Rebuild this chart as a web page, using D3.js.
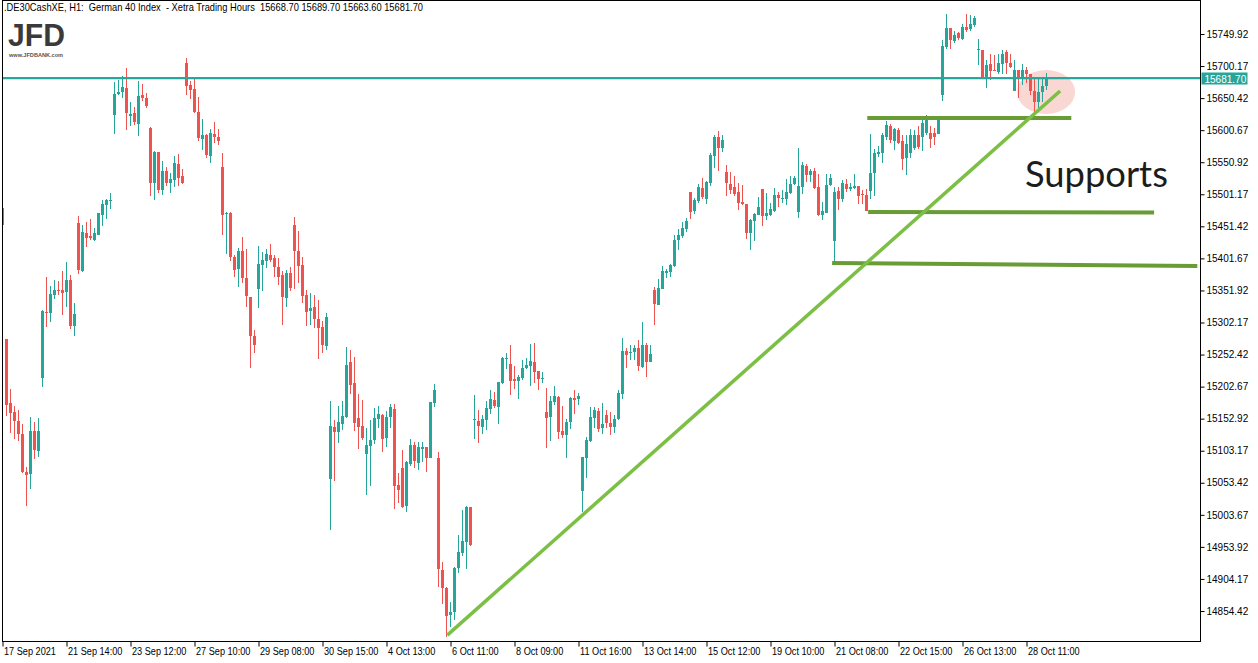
<!DOCTYPE html>
<html><head><meta charset="utf-8">
<script src="https://cdn.jsdelivr.net/npm/d3@7"></script>
<style>html,body{margin:0;padding:0;background:#fff;} svg{display:block;}</style>
</head><body>
<svg id="chart" width="1258" height="663"></svg>
<script>
// ---- DATA (H1 bars, .DE30CashXE, 17 Sep 16:00 .. 28 Oct 16:00) ----
const opens=[15479.4,15276.5,15177.7,15163.7,15149.8,15129.1,15070.0,15067.0,15133.7,15102.7,
15216.5,15318.4,15317.4,15345.3,15352.6,15352.6,15349.5,15368.1,15297.2,15456.6,
15382.6,15441.1,15436.4,15430.2,15438.5,15469.0,15484.6,15491.8,15624.7,15656.3,
15659.9,15666.1,15623.2,15627.8,15610.8,15655.3,15650.1,15604.1,15519.2,15566.8,
15507.3,15537.3,15519.2,15523.8,15548.1,15529.5,15704.9,15670.8,15664.6,15628.9,
15587.5,15593.2,15561.1,15594.7,15590.1,15543.5,15471.6,15472.1,15404.3,15385.2,
15413.1,15371.2,15341.7,15281.2,15354.6,15391.9,15398.1,15406.9,15401.7,15387.8,
15375.9,15340.7,15379.0,15453.5,15413.1,15391.4,15344.7,15320.4,15326.1,15307.5,
15295.1,15265.6,15059.7,15139.8,15132.1,15145.0,15154.9,15240.7,15208.1,15154.3,
15141.4,15098.5,15110.9,15119.7,15152.8,15158.5,15123.3,15155.4,15167.8,15049.8,
15076.2,15017.2,15082.4,15111.9,15084.5,15106.2,15108.8,15092.3,15176.6,15091.7,
14917.9,14890.5,14848.0,14853.3,14920.5,14944.9,14961.9,15015.7,15150.8,15149.7,
15139.9,15151.3,15167.9,15181.8,15171.0,15208.2,15244.9,15237.7,15213.9,15211.8,
15216.5,15231.0,15234.6,15240.8,15226.8,15215.0,15163.2,15155.9,15179.2,15186.5,
15133.7,15127.5,15147.7,15184.9,15183.9,15040.6,15092.3,15118.7,15154.4,15164.7,
15138.9,15158,15146,15140,15152.3,15191.1,15257.8,15255.3,15256.3,15262.5,
15233.0,15267.2,15241.3,15352.5,15329.8,15354.1,15378.9,15380.5,15389.8,15430.1,
15436.3,15447.2,15504.6,15475.2,15490.7,15510.9,15493.8,15518.6,15560.5,15590.0,
15572.9,15535.7,15517.1,15512.4,15504.6,15489.1,15486.0,15441.0,15459.7,15469.0,
15509.4,15467.4,15469.0,15475.2,15500.0,15493.8,15493.8,15503.1,15517.1,15473.7,
15512.5,15545.1,15531.1,15537.3,15512.5,15469.0,15472.1,15515.6,15428.6,15506.2,
15493.8,15517.1,15509.4,15510.9,15514.0,15501.6,15500.0,15506.2,15534.2,15563.6,
15565.2,15590.1,15607.1,15583.9,15600.9,15583.9,15557.5,15565.2,15573.0,15593.2,
15590.1,15596.3,15596.3,15596.3,15594.7,15655.3,15729.8,15759.3,15739.1,15751.5,
15742.2,15760.8,15757.7,15763.9,15725.1,15725.1,15681.6,15703.4,15694.1,15691.0,
15703.4,15722.0,15704.9,15661.5,15694.1,15680.1,15694.1,15687.9,15661.5,15644.4,
15659.9,15668.7];
const highs=[15484,15277,15198.9,15172.5,15166.3,15144.6,15077.3,15155.5,15147.2,15153.4,
15321.5,15372.8,15358.8,15368.1,15366.6,15382.1,15396.1,15375.9,15332.4,15467.5,
15453.5,15457.6,15462.8,15448.8,15472.1,15492.3,15494.4,15503.2,15674.9,15678.5,
15684.8,15697.2,15644.9,15636.6,15676.5,15672.3,15658.4,15605.0,15568.3,15567.0,
15552.8,15543.5,15534.2,15560.6,15563.7,15540.4,15712.7,15677.0,15681.6,15652.1,
15618.0,15594.7,15602.5,15613.3,15602.5,15565.2,15473.6,15473.0,15407.4,15418.3,
15434.8,15416.2,15342.0,15290.5,15420.9,15412.1,15416.2,15424.0,15406.9,15401.7,
15382.6,15383.6,15388.3,15465.9,15444.2,15403.8,15352.5,15347.3,15344.7,15337.0,
15304.4,15316.8,15180.2,15150.7,15172.4,15180.2,15264.0,15259.4,15248.5,15191.1,
15181.8,15138.3,15150.7,15169.9,15172.4,15160.5,15164.7,15175.0,15175.5,15069.0,
15104.1,15087.1,15121.2,15117.1,15117.1,15117.1,15109.0,15179.0,15206.6,15101.0,
14930.3,14892.0,14868.7,14922.1,14972.3,15011.1,15017.3,15016.0,15189.6,15166.3,
15158.5,15180.8,15197.3,15194.2,15210.0,15248.6,15254.8,15267.2,15234.6,15220.6,
15243.9,15247.0,15268.7,15270.3,15227.0,15225.3,15199.9,15187.5,15203.0,15187.5,
15172.5,15152.8,15186.5,15196.8,15192.7,15093.5,15124.9,15170.4,15170.4,15168.9,
15177.2,15166,15163,15158,15197.3,15277.5,15262.5,15267.2,15267.2,15274.9,
15302.9,15270.3,15267.2,15357.2,15369.6,15389.8,15385.1,15392.9,15437.9,15447.2,
15458.1,15464.3,15505.0,15495.3,15517.1,15526.4,15521.7,15565.2,15593.1,15599.3,
15593.1,15546.6,15535.7,15529.5,15518.6,15515.5,15486.0,15462.7,15472.6,15496.9,
15509.5,15503.1,15487.6,15510.9,15504.7,15507.8,15524.9,15529.5,15529.5,15573.0,
15551.3,15548.2,15540.4,15542.0,15532.6,15489.2,15532.6,15532.6,15512.5,15512.5,
15523.3,15524.9,15518.7,15532.6,15514.0,15507.8,15509.4,15594.7,15571.4,15576.1,
15596.3,15614.9,15610.2,15604.0,15604.0,15593.2,15593.2,15602.5,15600.9,15607.1,
15621.1,15624.2,15607.1,15604.0,15616.5,15740.6,15781.0,15759.3,15754.6,15753.1,
15765.5,15781.0,15779.4,15777.9,15742.2,15725.1,15709.6,15718.9,15717.4,15718.9,
15725.1,15725.1,15718.9,15709.6,15694.1,15703.4,15698.7,15688.0,15681.6,15681.6,
15681.6,15689.7];
const lows=[15452,15157.0,15131.1,15121.3,15118.7,15068.0,15017.8,15043.7,15090.3,15093.4,
15202.0,15295.2,15302.9,15339.1,15345.3,15313.8,15326.7,15292.6,15281.7,15377.9,
15380.0,15419.9,15430.2,15428.6,15438.0,15452.5,15463.3,15478.8,15595.3,15654.8,
15651.1,15600.9,15607.2,15609.2,15591.6,15646.5,15635.6,15499.0,15492.8,15503.7,
15500.5,15514.5,15503.7,15513.0,15514.5,15517.6,15655.8,15649.6,15627.3,15584.4,
15570.4,15558.0,15550.2,15581.3,15578.2,15438.5,15408.9,15398.1,15373.3,15357.2,
15364.0,15326.7,15232.0,15254.8,15325.1,15351.5,15386.2,15396.6,15373.3,15360.8,
15298.8,15326.7,15351.5,15354.6,15364.0,15332.9,15297.1,15298.7,15293.5,15245.4,
15255.2,15259.4,14980.0,15056.5,15115.0,15135.7,15153.3,15191.6,15133.6,15106.2,
15119.7,15034.8,15048.8,15113.5,15138.8,15101.6,15109.3,15138.8,15012.6,15022.4,
15014.6,15008.4,15079.3,15076.7,15073.1,15086.0,15070.0,15092.0,15170.4,14892.0,
14865.6,14814.4,14829.9,14840.3,14913.8,14940.2,14920.0,14955.2,15121.8,15115.6,
15129.0,15135.3,15160.6,15169.9,15145.1,15207.2,15229.4,15190.1,15199.4,15183.9,
15212.3,15230.5,15204.1,15208.2,15197.9,15208.7,15107.8,15118.7,15173.5,15121.8,
15122.8,15092.3,15137.3,15160.6,15174.6,15007.9,15061.3,15116.1,15138.9,15132.2,
15129.6,15138,15128,15130,15150.8,15183.9,15232.0,15243.9,15243.9,15227.3,
15232.0,15218.0,15241.0,15298.7,15329.8,15354.0,15371.2,15372.7,15388.2,15414.6,
15433.2,15442.6,15462.7,15470.5,15487.6,15493.8,15486.0,15513.9,15541.9,15537.2,
15566.7,15498.4,15501.5,15498.4,15476.7,15484.5,15431.7,15414.6,15429.2,15469.0,
15451.9,15461.2,15467.4,15473.6,15481.4,15487.6,15484.5,15501.6,15515.6,15464.3,
15501.6,15520.2,15520.2,15510.0,15467.4,15461.2,15472.0,15514.0,15396.0,15476.8,
15489.2,15504.7,15506.3,15509.4,15486.1,15486.1,15475.0,15493.8,15498.5,15559.0,
15549.7,15585.4,15580.8,15569.9,15579.2,15538.8,15531.1,15557.5,15569.9,15571.4,
15568.3,15593.2,15573.0,15577.7,15594.7,15645.9,15726.7,15726.7,15736.0,15740.6,
15740.6,15753.1,15754.6,15760.8,15701.8,15680.1,15666.1,15678.5,15692.0,15687.9,
15687.9,15687.9,15697.2,15661.0,15650.6,15670.8,15673.9,15655.3,15628.9,15635.1,
15644.4,15663.6];
const closes=[15453.5,15174.1,15162.2,15149.8,15129.1,15069.6,15065.4,15133.7,15104.2,15133.7,
15320.0,15316.4,15346.4,15352.6,15351.6,15348.5,15368.1,15297.2,15315.3,15383.6,
15442.6,15433.8,15433.8,15441.1,15472.1,15486.1,15492.3,15492.3,15656.8,15659.9,
15668.2,15627.8,15626.3,15613.4,15653.7,15651.1,15638.7,15519.2,15566.8,15508.3,
15537.3,15519.2,15524.4,15549.7,15526.9,15519.2,15669.7,15663.5,15628.9,15589.0,
15593.2,15562.6,15596.3,15590.1,15584.4,15469.5,15472.6,15404.3,15384.1,15413.1,
15371.2,15343.3,15281.7,15267.7,15392.9,15399.1,15408.4,15399.1,15388.8,15373.3,
15342.2,15379.0,15355.7,15413.6,15390.3,15343.3,15318.9,15324.6,15307.5,15294.0,
15267.1,15310.6,15141.4,15132.1,15147.6,15156.9,15236.6,15205.6,15146.6,15139.8,
15123.3,15111.9,15119.7,15153.8,15160.0,15121.7,15155.4,15170.9,15048.8,15042.1,
15015.7,15086.0,15111.9,15087.1,15108.8,15108.8,15092.3,15178.7,15197.3,14918.9,
14890.5,14847.0,14852.2,14920.5,14945.9,14962.9,15015.7,14956.2,15151.8,15141.5,
15152.3,15169.4,15183.4,15172.5,15209.8,15247.0,15247.0,15211.8,15211.3,15217.5,
15231.5,15236.2,15242.4,15225.8,15214.4,15216.0,15154.4,15180.3,15187.5,15132.7,
15127.5,15147.7,15184.4,15182.3,15187.5,15093.3,15120.2,15155.4,15166.3,15137.3,
15144.0,15146,15140,15152,15192.1,15257.8,15252.1,15256.8,15262.5,15234.6,
15267.2,15241.3,15253.2,15330.8,15355.6,15382.0,15382.0,15391.3,15430.1,15437.9,
15448.8,15459.6,15473.6,15492.2,15512.4,15496.9,15520.2,15562.1,15590.0,15572.9,
15585.4,15518.6,15507.7,15501.5,15487.6,15486.0,15441.0,15461.2,15470.6,15481.4,
15467.4,15472.1,15478.3,15500.0,15495.4,15495.4,15504.7,15517.1,15526.4,15514.0,
15546.6,15531.1,15537.3,15510.9,15469.0,15475.2,15515.6,15526.4,15504.7,15493.8,
15518.7,15509.4,15512.5,15514.0,15498.5,15500.0,15475.2,15534.2,15565.2,15566.8,
15593.2,15608.7,15585.4,15602.5,15580.8,15555.9,15579.2,15593.2,15593.2,15574.5,
15611.8,15618.0,15587.0,15590.1,15616.5,15731.3,15759.3,15740.6,15748.4,15743.7,
15760.8,15756.2,15765.5,15774.8,15726.7,15681.6,15701.8,15692.5,15692.5,15704.9,
15718.9,15704.9,15698.7,15694.1,15680.1,15694.1,15687.9,15661.5,15644.4,15659.9,
15669.2,15681.7];

const priceTicks=[15749.92,15700.17,15650.42,15600.67,15550.92,15501.17,15451.42,15401.67,15351.92,15302.17,15252.42,15202.67,15152.92,15103.17,15053.42,15003.67,14953.92,14904.17,14854.42];
const timeTickBars=[0,16,32,48,64,80,96,112,128,144,160,176,192,208,224,240,256];
const timeTickLabels=["17 Sep 2021","21 Sep 14:00","23 Sep 12:00","27 Sep 10:00","29 Sep 08:00","30 Sep 15:00","4 Oct 13:00","6 Oct 11:00","8 Oct 09:00","11 Oct 16:00","13 Oct 14:00","15 Oct 12:00","19 Oct 10:00","21 Oct 08:00","22 Oct 15:00","26 Oct 13:00","28 Oct 11:00"];
const bidPrice=15681.70;
const askPrice=15683.4;
const headerText=".DE30CashXE, H1:  German 40 Index  - Xetra Trading Hours  15668.70 15689.70 15663.60 15681.70";

// analyst annotations (bar index / price)
const supportFromBar=[216.2,216.4,207.4];
const supportToBar=[267.2,287.9,298.7];
const supportFromPrice=[15619.5,15473.6,15394.5];
const supportToPrice=[15619.5,15472.8,15389.8];
const trendFrom=[111.2,14817.0];
const trendTo=[264.4,15661.4];
const highlightCenter=[260.9,15659.9];
const annotationLabel="Supports";
const annotationAt=[255.6,15512.4];

// ---- DRAW ----
const svg=d3.select("#chart");
const W=1258,H=663;
const plot={left:2.5,top:0.5,right:1200.5,bottom:641.5};
const x=d3.scaleLinear().domain([0,261]).range([2.5,1046.5]);
const y=d3.scaleLinear().domain([14854.42,15749.92]).range([611,34]);
const BULL="#26a69a",BEAR="#ef5350";
const AXFONT="'Liberation Sans', Arial, sans-serif";

svg.append("rect").attr("width",W).attr("height",H).attr("fill","#fff");
svg.append("clipPath").attr("id","clip").append("rect")
  .attr("x",plot.left+0.5).attr("y",plot.top+0.5)
  .attr("width",plot.right-plot.left-1).attr("height",plot.bottom-plot.top-1);
const g=svg.append("g").attr("clip-path","url(#clip)");

// highlight ellipse
g.append("ellipse").attr("cx",x(highlightCenter[0])).attr("cy",y(highlightCenter[1]))
  .attr("rx",29).attr("ry",22).attr("fill","#f7c9c3").attr("opacity",0.75);

const bars=d3.range(opens.length).map(i=>({i,o:opens[i],h:highs[i],l:lows[i],c:closes[i]}));
const cg=g.append("g");
cg.selectAll("line.wick").data(bars).join("line").attr("class","wick")
  .attr("x1",d=>x(d.i)).attr("x2",d=>x(d.i))
  .attr("y1",d=>Math.round(y(d.h))).attr("y2",d=>Math.round(y(d.l)))
  .attr("stroke",d=>d.c>=d.o?BULL:BEAR).attr("stroke-width",1);
cg.selectAll("rect.body").data(bars).join("rect").attr("class","body")
  .attr("x",d=>x(d.i)-1.5).attr("width",3)
  .attr("y",d=>Math.round(y(Math.max(d.o,d.c))))
  .attr("height",d=>Math.max(1,Math.round(y(Math.min(d.o,d.c)))-Math.round(y(Math.max(d.o,d.c)))))
  .attr("fill",d=>d.c>=d.o?BULL:BEAR);

// bid / ask lines
g.append("line").attr("x1",plot.left).attr("x2",plot.right)
  .attr("y1",Math.round(y(askPrice))+0.5).attr("y2",Math.round(y(askPrice))+0.5)
  .attr("stroke",BEAR).attr("stroke-width",1);
g.append("line").attr("x1",plot.left).attr("x2",plot.right)
  .attr("y1",Math.round(y(bidPrice))+0.5).attr("y2",Math.round(y(bidPrice))+0.5)
  .attr("stroke",BULL).attr("stroke-width",1.3);

// support lines
d3.range(supportFromBar.length).forEach(k=>{
  g.append("line")
   .attr("x1",x(supportFromBar[k])).attr("y1",y(supportFromPrice[k]))
   .attr("x2",x(supportToBar[k])).attr("y2",y(supportToPrice[k]))
   .attr("stroke","#6a9c36").attr("stroke-width",4);
});
// trend line
g.append("line").attr("x1",x(trendFrom[0])).attr("y1",y(trendFrom[1]))
  .attr("x2",x(trendTo[0])).attr("y2",y(trendTo[1]))
  .attr("stroke","#7cbf45").attr("stroke-width",3.5).attr("stroke-linecap","butt");

// label
g.append("text").attr("x",x(annotationAt[0])).attr("y",y(annotationAt[1]))
  .attr("font-family","Lato, 'Open Sans', sans-serif").attr("font-size",36)
  .attr("textLength",143).attr("lengthAdjust","spacingAndGlyphs")
  .attr("fill","#1c1c1c").text(annotationLabel);

// frame
svg.append("rect").attr("x",plot.left).attr("y",plot.top)
  .attr("width",plot.right-plot.left).attr("height",plot.bottom-plot.top)
  .attr("fill","none").attr("stroke","#000").attr("stroke-width",1);

// right axis
const ra=svg.append("g").attr("transform",`translate(${plot.right},0)`)
  .call(d3.axisRight(y).tickValues(priceTicks).tickSize(4).tickPadding(2).tickFormat(d3.format(".2f")));
ra.select(".domain").remove();
ra.selectAll("line").attr("stroke","#000");
ra.selectAll("text").attr("font-family",AXFONT).attr("font-size",10).attr("fill","#000");

// bottom axis
const ba=svg.append("g").attr("transform",`translate(0,${plot.bottom})`)
  .call(d3.axisBottom(x).tickValues(timeTickBars).tickSize(5).tickFormat((d,i)=>timeTickLabels[i]));
ba.select(".domain").remove();
ba.selectAll("line").attr("stroke","#000");
ba.selectAll("text").attr("font-family",AXFONT).attr("font-size",10)
  .attr("fill","#000").attr("text-anchor","start").attr("x",1).attr("y",6).attr("dy","0.71em")
  .each(function(){
    const len=this.getComputedTextLength();
    d3.select(this).attr("textLength",(len*0.915).toFixed(1)).attr("lengthAdjust","spacingAndGlyphs");
  });

// price label
const by=Math.round(y(bidPrice))+0.5;
svg.append("rect").attr("x",plot.right+1).attr("y",by-6).attr("width",46).attr("height",12).attr("fill",BULL);
svg.append("text").attr("x",plot.right+4).attr("y",by+4)
  .attr("font-family",AXFONT).attr("font-size",10)
  .attr("fill","#fff").text(d3.format(".2f")(bidPrice));

// header
svg.append("text").attr("x",4).attr("y",11).style("white-space","pre")
  .attr("font-family",AXFONT).attr("font-size",11)
  .attr("textLength",419).attr("lengthAdjust","spacingAndGlyphs")
  .attr("fill","#000").text(headerText);

// logo
svg.append("text").attr("x",8).attr("y",45.5).attr("font-family",AXFONT).attr("font-weight","bold")
  .attr("font-size",31).attr("textLength",57).attr("lengthAdjust","spacingAndGlyphs")
  .attr("fill","#3a3a3a").text("JFD");
svg.append("text").attr("x",9).attr("y",56.5).attr("font-family",AXFONT).attr("font-weight","bold")
  .attr("font-size",5).attr("textLength",54).attr("lengthAdjust","spacingAndGlyphs")
  .attr("fill","#555").text("www.JFDBANK.com");
</script>
</body></html>
